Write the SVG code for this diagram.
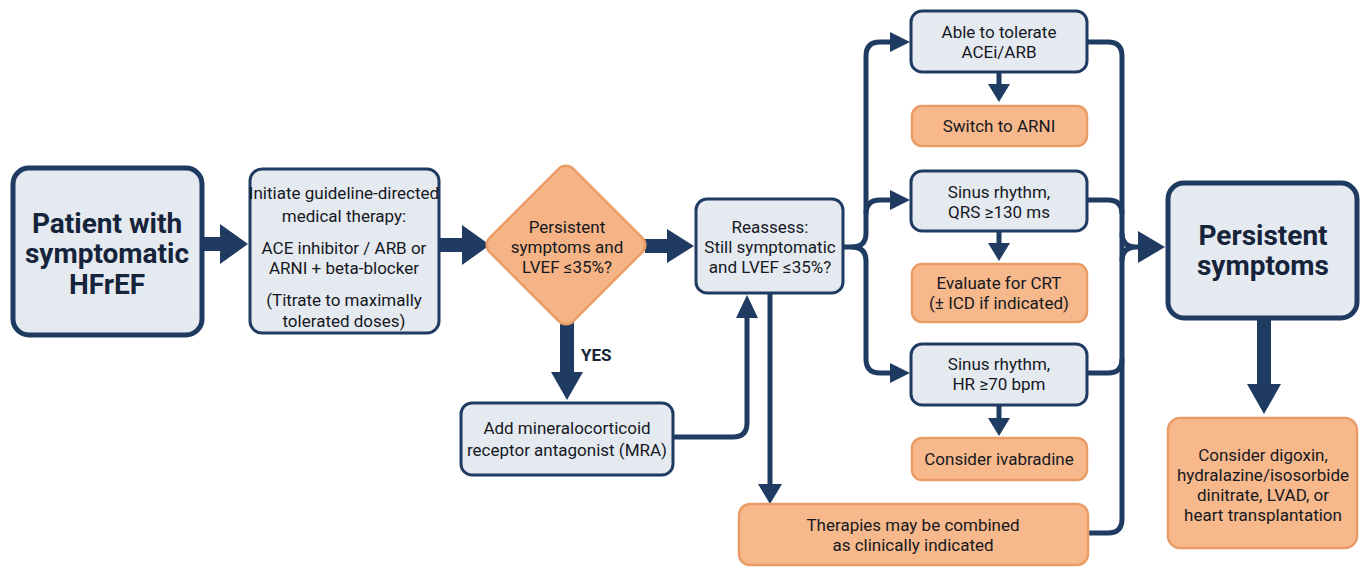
<svg xmlns="http://www.w3.org/2000/svg" width="1361" height="569" viewBox="0 0 1361 569">
<style>
.t{font-family:Roboto,"Liberation Sans",sans-serif;font-size:17px;fill:#15181e;text-anchor:middle}
.b{font-family:Roboto,"Liberation Sans",sans-serif;font-size:28px;font-weight:bold;fill:#16243b;text-anchor:middle}
.y{font-family:Roboto,"Liberation Sans",sans-serif;font-size:17px;font-weight:bold;fill:#16243b}
.big{fill:#e5eaf1;stroke:#1f3b61;stroke-width:5}
.blue{fill:#e5eaf1;stroke:#1f3b61;stroke-width:3}
.or{fill:#f7b98c;stroke:#ea9c67;stroke-width:2.5}
.ln{fill:none;stroke:#1f3b61;stroke-width:5;stroke-linejoin:round}
.ah{fill:#1f3b61}
</style>
<defs>
<marker id="arr" viewBox="0 0 10 10" refX="3" refY="5" markerWidth="20" markerHeight="22" markerUnits="userSpaceOnUse" orient="auto">
<path d="M0,0 L10,5 L0,10 z" fill="#1f3b61"/>
</marker>
</defs>
<rect width="1361" height="569" fill="#ffffff"/>

<g id="connectors">
<path class="ah" d="M202,237 H220 V224 L248,244 L220,264 V251 H202 z"/>
<path class="ah" d="M438,238 H462 V225 L490,245 L462,265 V252 H438 z"/>
<path class="ah" d="M645,239 H667 V229 L694,246 L667,263 V253 H645 z"/>
<path class="ah" d="M560,322 H574 V372 H583 L567,400 L551,372 H560 z"/>
<path class="ah" d="M1257,318 H1271 V384 H1281 L1264,414 L1247,384 H1257 z"/>
<path class="ln" d="M673,437 H733 Q747,437 747,423 V316"/>
<path class="ah" d="M736,318 L747,295 L758,318 z"/>
<path class="ln" d="M770,293 V486"/>
<path class="ah" d="M758,484 L770,504 L782,484 z"/>
<path class="ln" d="M843,247 H852 Q866,247 866,233 V56 Q866,42 880,42 H896" marker-end="url(#arr)"/>
<path class="ln" d="M852,247 Q866,247 866,261 V359 Q866,373 880,373 H896" marker-end="url(#arr)"/>
<path class="ln" d="M866,214 Q866,200 880,200 H896" marker-end="url(#arr)"/>
<path class="ln" d="M999,72 V86"/>
<path class="ah" d="M988,84 L999,102 L1010,84 z"/>
<path class="ln" d="M999,231 V245"/>
<path class="ah" d="M988,243 L999,261 L1010,243 z"/>
<path class="ln" d="M999,405 V420"/>
<path class="ah" d="M988,418 L999,436 L1010,418 z"/>
<path class="ln" d="M1087,42 H1108 Q1122,42 1122,56 V519 Q1122,533 1108,533 H1088"/>
<path class="ln" d="M1087,200 H1108 Q1122,200 1122,214"/>
<path class="ln" d="M1087,373 H1108 Q1122,373 1122,359"/>
<path class="ln" d="M1122,233 Q1122,247 1136,247 M1122,261 Q1122,247 1136,247 H1142"/>
<path class="ah" d="M1138,231 L1165,247 L1138,263 z"/>
</g>

<g id="n-patient">
<rect class="big" x="13" y="168" width="189" height="167" rx="16"/>
<text class="b" x="107" y="233">Patient with</text>
<text class="b" x="107" y="263">symptomatic</text>
<text class="b" x="107" y="294">HFrEF</text>
</g>

<g id="n-gdmt">
<rect class="blue" x="250" y="169" width="189" height="164" rx="12"/>
<text class="t" x="344" y="199">Initiate guideline-directed</text>
<text class="t" x="344" y="222">medical therapy:</text>
<text class="t" x="344" y="254">ACE inhibitor / ARB or</text>
<text class="t" x="344" y="274">ARNI + beta-blocker</text>
<text class="t" x="344" y="306">(Titrate to maximally</text>
<text class="t" x="344" y="327">tolerated doses)</text>
</g>

<g id="n-decision">
<rect x="-59" y="-59" width="118" height="118" rx="10" transform="translate(566,245) rotate(45)" fill="#f6b486" stroke="#ea9c67" stroke-width="2.5"/>
<text class="t" x="567" y="233">Persistent</text>
<text class="t" x="567" y="253">symptoms and</text>
<text class="t" x="567" y="273">LVEF ≤35%?</text>
</g>

<text class="y" x="581" y="361">YES</text>

<g id="n-mra">
<rect class="blue" x="461" y="403" width="212" height="72" rx="11"/>
<text class="t" x="567" y="434">Add mineralocorticoid</text>
<text class="t" x="567" y="456">receptor antagonist (MRA)</text>
</g>

<g id="n-reassess">
<rect class="blue" x="696" y="199" width="147" height="94" rx="11"/>
<text class="t" x="770" y="233">Reassess:</text>
<text class="t" x="770" y="253">Still symptomatic</text>
<text class="t" x="770" y="273">and LVEF ≤35%?</text>
</g>

<g id="n-able">
<rect class="blue" x="911" y="11" width="176" height="61" rx="11"/>
<text class="t" x="999" y="38">Able to tolerate</text>
<text class="t" x="999" y="58">ACEi/ARB</text>
</g>

<g id="n-arni">
<rect class="or" x="912" y="106" width="175" height="40" rx="10"/>
<text class="t" x="999" y="132">Switch to ARNI</text>
</g>

<g id="n-qrs">
<rect class="blue" x="911" y="171" width="176" height="60" rx="11"/>
<text class="t" x="999" y="198">Sinus rhythm,</text>
<text class="t" x="999" y="218">QRS ≥130 ms</text>
</g>

<g id="n-crt">
<rect class="or" x="912" y="264" width="175" height="58" rx="10"/>
<text class="t" x="999" y="289">Evaluate for CRT</text>
<text class="t" x="999" y="309">(± ICD if indicated)</text>
</g>

<g id="n-hr">
<rect class="blue" x="911" y="344" width="176" height="61" rx="11"/>
<text class="t" x="999" y="370">Sinus rhythm,</text>
<text class="t" x="999" y="390">HR ≥70 bpm</text>
</g>

<g id="n-ivab">
<rect class="or" x="912" y="438" width="175" height="42" rx="10"/>
<text class="t" x="999" y="465">Consider ivabradine</text>
</g>

<g id="n-combined">
<rect class="or" x="739" y="504" width="349" height="61" rx="11"/>
<text class="t" x="913" y="531">Therapies may be combined</text>
<text class="t" x="913" y="551">as clinically indicated</text>
</g>

<g id="n-persistent">
<rect class="big" x="1168" y="183" width="189" height="135" rx="16"/>
<text class="b" x="1263" y="245">Persistent</text>
<text class="b" x="1263" y="275">symptoms</text>
</g>

<g id="n-advanced">
<rect class="or" x="1168" y="418" width="189" height="130" rx="12"/>
<text class="t" x="1263" y="461">Consider digoxin,</text>
<text class="t" x="1263" y="481">hydralazine/isosorbide</text>
<text class="t" x="1263" y="501">dinitrate, LVAD, or</text>
<text class="t" x="1263" y="521">heart transplantation</text>
</g>
</svg>
